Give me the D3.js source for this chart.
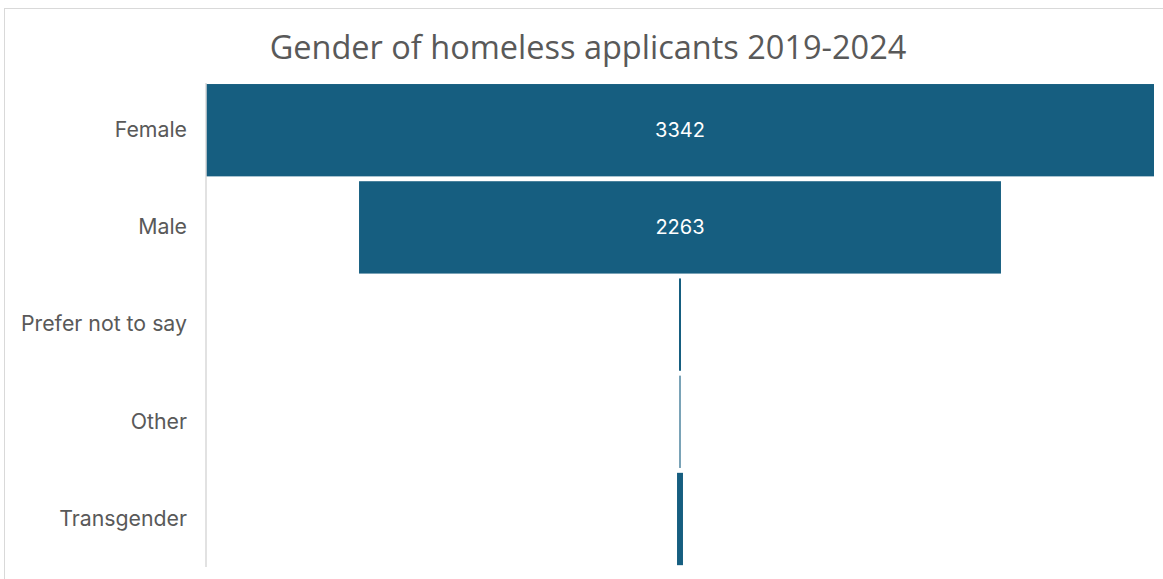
<!DOCTYPE html>
<html>
<head>
<meta charset="utf-8">
<script src="https://cdn.jsdelivr.net/npm/d3@7"></script>
<style>
  html, body { margin: 0; padding: 0; background: #fff; }
  svg { display: block; }
</style>
</head>
<body>
<svg id="chart" width="1163" height="579"></svg>
<script>
// Gender breakdown of homeless applicants, drawn as a centred funnel
const categories = ["Female", "Male", "Prefer not to say", "Other", "Transgender"];
const values = [3342, 2263, 7, 4, 21];
const valueLabels = ["3342", "2263", "", "", ""];
const title = "Gender of homeless applicants 2019-2024";

const W = 1163, H = 579;
const svg = d3.select("#chart");

// chart area frame
svg.append("rect")
  .attr("x", 4.5).attr("y", 8.5)
  .attr("width", W + 10).attr("height", H + 10)
  .attr("fill", "#fff")
  .attr("stroke", "#d9d9d9").attr("stroke-width", 1);

const plotLeft = 206, plotRight = 1154;
const centre = (plotLeft + plotRight) / 2;

// full width of the plot corresponds to the largest value
const w = d3.scaleLinear()
  .domain([0, d3.max(values)])
  .range([0, plotRight - plotLeft]);

const y = d3.scaleBand()
  .domain(categories)
  .range([81.6, 567.6])
  .paddingInner(0.05)
  .paddingOuter(0.025);

svg.append("text")
  .attr("x", 588).attr("y", 59)
  .attr("text-anchor", "middle")
  .attr("font-family", "'Open Sans', sans-serif")
  .attr("font-size", 32.5)
  .attr("fill", "#595959")
  .text(title);

// funnel bars
svg.append("g").selectAll("rect")
  .data(categories)
  .join("rect")
  .attr("x", (d, i) => centre - w(values[i]) / 2)
  .attr("y", d => y(d))
  .attr("width", (d, i) => w(values[i]))
  .attr("height", y.bandwidth())
  .attr("fill", "#165e80");

// value labels inside the bars
svg.append("g").selectAll("text")
  .data(categories)
  .join("text")
  .attr("x", centre)
  .attr("y", d => y(d) + y.bandwidth() / 2)
  .attr("dy", "0.35em")
  .attr("text-anchor", "middle")
  .attr("font-family", "Inter, 'Noto Sans', sans-serif")
  .attr("font-size", 20)
  .attr("fill", "#fff")
  .text((d, i) => valueLabels[i]);

// category axis
const axis = svg.append("g")
  .attr("transform", `translate(${plotLeft},0)`)
  .call(d3.axisLeft(y).tickSize(0).tickPadding(19));
axis.select(".domain")
  .attr("d", `M0,83V567`)
  .attr("stroke", "#d9d9d9")
  .attr("stroke-width", 1.5);
axis.selectAll(".tick text")
  .attr("font-family", "Inter, 'Noto Sans', sans-serif")
  .attr("font-size", 21.3)
  .attr("fill", "#595959");
</script>
</body>
</html>
